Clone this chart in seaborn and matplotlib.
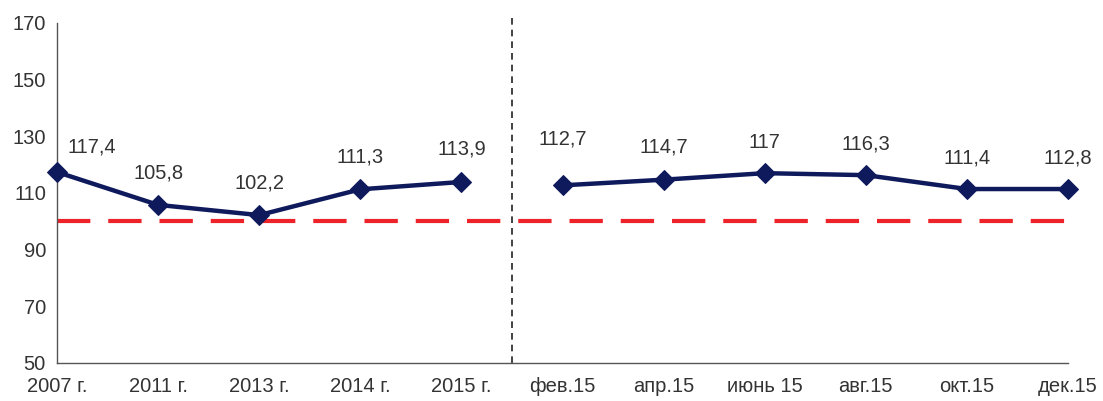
import matplotlib

matplotlib.use("Agg")

import matplotlib.pyplot as plt
import pandas as pd
import seaborn as sns

categories = ["2007 г.", "2011 г.", "2013 г.", "2014 г.", "2015 г.",
              "фев.15", "апр.15", "июнь 15", "авг.15", "окт.15", "дек.15"]
values = [117.4, 105.8, 102.2, 111.3, 113.9, 112.7, 114.7, 117.0, 116.3, 111.4, 111.4]
value_labels = ["117,4", "105,8", "102,2", "111,3", "113,9",
                "112,7", "114,7", "117", "116,3", "111,4", "112,8"]
periods = ["years"] * 5 + ["months"] * 6
baseline = 100
y_ticks = [50, 70, 90, 110, 130, 150, 170]

# label offsets in pixels (dx, dy)
label_offsets = [(35, 25), (0, 32), (0, 32), (0, 32), (0, 33),
                 (0, 46), (0, 33), (0, 31), (0, 31), (0, 31), (0, 31)]

NAVY = "#0f1a5c"
RED = "#ee2229"
TEXT = "#333333"

sns.set_theme(style="white")
plt.rcParams["font.family"] = ["Liberation Sans", "DejaVu Sans"]

data = pd.DataFrame({"pos": range(len(categories)), "value": values, "period": periods})

fig = plt.figure(figsize=(11.03, 4.01), dpi=100)
ax = fig.add_axes([57 / 1103, 1 - 363 / 401, (1068 - 57) / 1103, (363 - 23) / 401])

ax.axhline(baseline, color=RED, linewidth=3, dashes=(8, 4.3), zorder=1)
ax.plot([4.5, 4.5], [50, 172.8], color="#222222", linewidth=1.2, dashes=(4, 3),
        clip_on=False, zorder=1)

sns.lineplot(data=data, x="pos", y="value", hue="period",
             palette={"years": NAVY, "months": NAVY}, linewidth=3.2,
             marker="D", markersize=10.5, markeredgecolor=NAVY,
             legend=False, ax=ax, zorder=3, clip_on=False)

for i, (v, lab) in enumerate(zip(values, value_labels)):
    dx, dy = label_offsets[i]
    ax.annotate(lab, (i, v), xytext=(dx, dy), textcoords="offset pixels",
                ha="center", va="center", fontsize=14.5, color=TEXT)

ax.set_xlim(0, len(categories) - 1)
ax.set_ylim(50, 170)
ax.set_yticks(y_ticks)
ax.set_xticks(range(len(categories)))
ax.set_xticklabels(categories)
ax.set_xlabel("")
ax.set_ylabel("")

for side in ["top", "right"]:
    ax.spines[side].set_visible(False)
for side in ["left", "bottom"]:
    ax.spines[side].set_color("#555555")
    ax.spines[side].set_linewidth(1)
ax.tick_params(axis="both", direction="out", length=5, width=1, color="#555555",
               labelsize=14.5, labelcolor=TEXT, pad=5)
ax.tick_params(axis="y", pad=3)

fig.savefig("out.png", dpi=100)
